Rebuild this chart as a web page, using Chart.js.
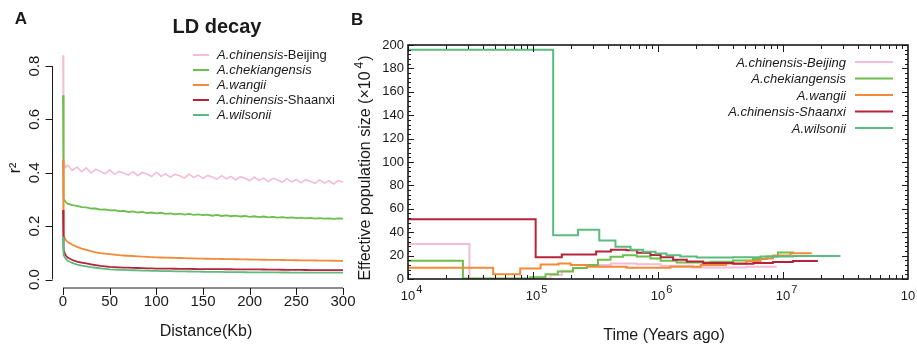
<!DOCTYPE html>
<html>
<head>
<meta charset="utf-8">
<script src="https://cdn.jsdelivr.net/npm/chart.js@4.4.0/dist/chart.umd.min.js"></script>
<style>
html, body { margin: 0; padding: 0; background: #fff; }
#wrap { position: relative; width: 917px; height: 344px; overflow: hidden; }
#ld-chart { position: absolute; left: 0; top: 0; }
#psmc-chart { position: absolute; left: 340px; top: 0; }
</style>
</head>
<body>
<div id="wrap">
  <canvas id="ld-chart" width="360" height="344"></canvas>
  <canvas id="psmc-chart" width="577" height="344"></canvas>
</div>
<script>
// species, same order in both panels
var speciesName = ['A.chinensis', 'A.chekiangensis', 'A.wangii', 'A.chinensis', 'A.wilsonii'];
var speciesSuffix = ['-Beijing', '', '', '-Shaanxi', ''];

// panel A: LD decay (r2 against distance in kb)
var distKb = [0, 0.3, 1, 2, 3,
  5, 10, 15, 20, 25, 30, 35, 40, 45, 50, 55, 60, 65, 70, 75, 80, 85, 90, 95, 100,
  105, 110, 115, 120, 125, 130, 135, 140, 145, 150, 155, 160, 165, 170, 175, 180, 185, 190, 195, 200,
  205, 210, 215, 220, 225, 230, 235, 240, 245, 250, 255, 260, 265, 270, 275, 280, 285, 290, 295, 300];
var ldBeijing = [0.84, 0.45, 0.435, 0.428, 0.42,
  0.428, 0.409, 0.421, 0.404, 0.418, 0.399, 0.413, 0.406, 0.396, 0.411, 0.394, 0.405, 0.399, 0.391, 0.404, 0.389, 0.401, 0.395, 0.386, 0.402,
  0.387, 0.396, 0.383, 0.394, 0.389, 0.380, 0.395, 0.382, 0.391, 0.378, 0.390, 0.384, 0.376, 0.389, 0.377, 0.386, 0.373, 0.385, 0.379, 0.370,
  0.384, 0.372, 0.380, 0.367, 0.379, 0.373, 0.365, 0.378, 0.366, 0.375, 0.362, 0.374, 0.368, 0.360, 0.373, 0.361, 0.370, 0.358, 0.371, 0.364];
var ldChekiang = [0.69, 0.32, 0.302, 0.295, 0.29,
  0.284, 0.279, 0.276, 0.271, 0.270, 0.266, 0.266, 0.262, 0.263, 0.259, 0.260, 0.256, 0.257, 0.253, 0.255, 0.251, 0.253, 0.249, 0.251, 0.248,
  0.250, 0.246, 0.248, 0.244, 0.247, 0.243, 0.246, 0.242, 0.244, 0.241, 0.243, 0.239, 0.242, 0.238, 0.240, 0.237, 0.239, 0.236, 0.238, 0.235,
  0.237, 0.234, 0.236, 0.233, 0.235, 0.232, 0.234, 0.231, 0.233, 0.230, 0.232, 0.229, 0.231, 0.228, 0.230, 0.228, 0.229, 0.227, 0.229, 0.228];
var ldWangii = [0.45, 0.19, 0.165, 0.155, 0.148,
  0.14, 0.13, 0.122, 0.116, 0.111, 0.106, 0.102, 0.099, 0.097, 0.095, 0.093, 0.091, 0.09, 0.089, 0.088, 0.087, 0.086, 0.085, 0.084, 0.083,
  0.0825, 0.082, 0.0815, 0.081, 0.0805, 0.08, 0.0795, 0.079, 0.0785, 0.078, 0.0778, 0.0775, 0.077, 0.0768, 0.0765, 0.076, 0.0758, 0.0755, 0.0752, 0.075,
  0.0748, 0.0745, 0.074, 0.0738, 0.0735, 0.0732, 0.073, 0.0728, 0.0725, 0.0722, 0.072, 0.0718, 0.0715, 0.0712, 0.071, 0.0708, 0.0705, 0.0703, 0.0701, 0.07];
var ldShaanxi = [0.26, 0.14, 0.11, 0.098, 0.09,
  0.082, 0.073, 0.067, 0.063, 0.06, 0.057, 0.054, 0.051, 0.049, 0.047, 0.0462, 0.0455, 0.0448, 0.0442, 0.0436, 0.043, 0.0425, 0.042, 0.0415, 0.041,
  0.0408, 0.0406, 0.0404, 0.0402, 0.04, 0.0398, 0.0396, 0.0394, 0.0392, 0.039, 0.0389, 0.0388, 0.0387, 0.0386, 0.0385, 0.0384, 0.0383, 0.0382, 0.0381, 0.038,
  0.0378, 0.0376, 0.0374, 0.0372, 0.037, 0.0368, 0.0366, 0.0364, 0.0362, 0.036, 0.0358, 0.0356, 0.0355, 0.0354, 0.0353, 0.0352, 0.0351, 0.035, 0.035, 0.035];
var ldWilsonii = [0.16, 0.11, 0.092, 0.083, 0.077,
  0.07, 0.062, 0.056, 0.052, 0.049, 0.046, 0.044, 0.042, 0.04, 0.038, 0.0372, 0.0365, 0.0358, 0.0352, 0.0346, 0.034, 0.0335, 0.033, 0.0325, 0.032,
  0.0317, 0.0314, 0.0311, 0.0308, 0.0305, 0.0302, 0.0299, 0.0296, 0.0293, 0.029, 0.0288, 0.0286, 0.0284, 0.0282, 0.028, 0.0278, 0.0276, 0.0274, 0.0272, 0.027,
  0.0269, 0.0268, 0.0267, 0.0266, 0.0265, 0.0264, 0.0263, 0.0262, 0.0261, 0.026, 0.026, 0.026, 0.026, 0.026, 0.026, 0.026, 0.026, 0.026, 0.026, 0.026];
var ldXTicks = [0, 50, 100, 150, 200, 250, 300];
var ldYTicks = [0, 0.2, 0.4, 0.6, 0.8];

// panel B: PSMC, step start times (last entry = end of curve) and Ne (x10^4)
var timeBeijing = [1e4, 3.1e4, 1.38e5, 1.7e5, 2.1e5, 2.7e5, 4.2e5, 6.8e5, 1.05e6, 1.9e6, 5.1e6, 8.9e6];
var neBeijing = [30, 0.3, 3.4, 7, 9.4, 11.9, 13.3, 12.7, 11.3, 9.9, 10.5];
var timeChekiang = [1e4, 2.75e4, 9.5e4, 1.26e5, 1.58e5, 2.09e5, 2.69e5, 3.31e5, 4.17e5, 5.25e5, 6.76e5, 8.71e5, 1.05e6, 1.41e6, 2.63e6, 3.98e6, 5.75e6, 7.41e6, 9.12e6, 1.23e7];
var neChekiang = [15.5, 0.5, 1.5, 4, 6.5, 9.4, 12, 16.5, 19, 20.4, 19.3, 17.6, 15.6, 14.2, 14.8, 15.9, 17, 19.3, 22.7];
var timeWangii = [1e4, 4.8e4, 7.9e4, 1.15e5, 1.6e5, 2e5, 2.7e5, 5.6e5, 1.26e6, 2.2e6, 3.5e6, 5.1e6, 6.6e6, 8.3e6, 1.15e7, 1.7e7];
var neWangii = [9.7, 4, 9, 12.5, 13.3, 11.9, 10.5, 9.6, 10.5, 11.9, 13.3, 15.3, 17.6, 20, 22];
var timeShaanxi = [1e4, 1.05e5, 1.7e5, 3.2e5, 4.2e5, 5.6e5, 6.8e5, 8.7e5, 1.05e6, 1.32e6, 1.7e6, 2.3e6, 4e6, 5.8e6, 8.3e6, 1.2e7, 1.9e7];
var neShaanxi = [51, 18.5, 21, 23.5, 25, 24.5, 22.5, 20.5, 18.5, 16.5, 15, 13.6, 13, 13.6, 14.5, 15.3];
var timeWilsonii = [1e4, 1.45e5, 2.29e5, 3.39e5, 4.57e5, 6.03e5, 7.59e5, 9.55e5, 1.17e6, 1.51e6, 2.04e6, 3.98e6, 6.61e6, 1.2e7, 2.88e7];
var neWilsonii = [196, 37.5, 42, 33, 27.5, 25, 23.3, 21.8, 20.4, 19.3, 18.4, 18.6, 19.3, 19.6];
var psmcXTicks = [1e4, 1e5, 1e6, 1e7, 1e8];
var psmcYTicks = [0, 20, 40, 60, 80, 100, 120, 140, 160, 180, 200];

// colours
var colors = ['#f5bcd6', '#6dbe4a', '#f28a3a', '#b5243a', '#5cbb7e'];
var FONT = "'Liberation Sans', Arial, Helvetica, sans-serif";
var ink = '#1a1a1a';

function ldPoints(vals) {
    return distKb.map(function (d, i) { return { x: d, y: vals[i] }; });
}

function psmcPoints(times, ne) {
    var pts = ne.map(function (v, i) { return { x: times[i], y: v }; });
    pts.push({ x: times[times.length - 1], y: ne[ne.length - 1] });
    return pts;
}

var ldDecor = {
    id: 'ldDecor',
    afterDraw: function (chart) {
        var ctx = chart.ctx, xs = chart.scales.x, ys = chart.scales.y, area = chart.chartArea;
        var axisX = area.left - 10.5;
        var axisY = area.bottom + 8.5;
        ctx.save();
        ctx.strokeStyle = ink;
        ctx.fillStyle = ink;
        ctx.lineWidth = 1;
        ctx.beginPath();
        ctx.moveTo(axisX, ys.getPixelForValue(ldYTicks[0]));
        ctx.lineTo(axisX, ys.getPixelForValue(ldYTicks[ldYTicks.length - 1]));
        ldYTicks.forEach(function (t) {
            var py = Math.round(ys.getPixelForValue(t)) + 0.5;
            ctx.moveTo(axisX, py);
            ctx.lineTo(axisX - 7, py);
        });
        ctx.moveTo(xs.getPixelForValue(ldXTicks[0]), axisY);
        ctx.lineTo(xs.getPixelForValue(ldXTicks[ldXTicks.length - 1]), axisY);
        ldXTicks.forEach(function (t) {
            var px = Math.round(xs.getPixelForValue(t)) + 0.5;
            ctx.moveTo(px, axisY);
            ctx.lineTo(px, axisY + 7);
        });
        ctx.stroke();

        // tick labels
        ctx.font = '15px ' + FONT;
        ctx.textAlign = 'center';
        ctx.textBaseline = 'middle';
        ldXTicks.forEach(function (t) {
            ctx.fillText(String(t), xs.getPixelForValue(t), axisY + 14);
        });
        ldYTicks.forEach(function (t) {
            ctx.save();
            ctx.translate(axisX - 18, ys.getPixelForValue(t));
            ctx.rotate(-Math.PI / 2);
            ctx.fillText(t.toFixed(1), 0, 0);
            ctx.restore();
        });

        // axis titles
        ctx.font = '16px ' + FONT;
        ctx.fillText('Distance(Kb)', 206, 332);
        ctx.save();
        ctx.translate(16, 168);
        ctx.rotate(-Math.PI / 2);
        ctx.fillText('r\u00b2', 0, 0);
        ctx.restore();

        ctx.font = 'bold 20px ' + FONT;
        ctx.fillText('LD decay', 217, 27);
        ctx.font = 'bold 17px ' + FONT;
        ctx.fillText('A', 21, 19);

        // legend
        ctx.textAlign = 'left';
        ctx.textBaseline = 'alphabetic';
        chart.data.datasets.forEach(function (ds, i) {
            var ly = 55 + 15 * i;
            ctx.strokeStyle = ds.borderColor;
            ctx.lineWidth = 2;
            ctx.beginPath();
            ctx.moveTo(193, ly);
            ctx.lineTo(209, ly);
            ctx.stroke();
            ctx.font = 'italic 13px ' + FONT;
            ctx.fillText(speciesName[i], 217, ly + 3.5);
            var w = ctx.measureText(speciesName[i]).width;
            ctx.font = '13px ' + FONT;
            ctx.fillText(speciesSuffix[i], 217 + w, ly + 3.5);
        });
        ctx.restore();
    }
};

var psmcDecor = {
    id: 'psmcDecor',
    afterDraw: function (chart) {
        var ctx = chart.ctx, xs = chart.scales.x, ys = chart.scales.y, a = chart.chartArea;
        ctx.save();
        ctx.strokeStyle = ink;
        ctx.fillStyle = ink;
        ctx.lineWidth = 1;
        ctx.beginPath();
        // y ticks, major every 20 and minor every 4, on both sides
        for (var v = 0; v <= 200; v += 4) {
            var py = Math.round(ys.getPixelForValue(v)) + 0.5;
            var len = v % 20 === 0 ? 6 : 3;
            ctx.moveTo(a.left, py); ctx.lineTo(a.left + len, py);
            ctx.moveTo(a.right, py); ctx.lineTo(a.right - len, py);
        }
        // log x ticks, bottom and top
        for (var d = 4; d < 8; d++) {
            for (var m = 1; m < 10; m++) {
                var px = Math.round(xs.getPixelForValue(m * Math.pow(10, d))) + 0.5;
                var l = m === 1 ? 7 : 4;
                ctx.moveTo(px, a.bottom); ctx.lineTo(px, a.bottom - l);
                ctx.moveTo(px, a.top); ctx.lineTo(px, a.top + l);
            }
        }
        ctx.stroke();
        ctx.lineWidth = 1.6;
        ctx.strokeRect(a.left, a.top, a.right - a.left, a.bottom - a.top);

        // y tick labels
        ctx.font = '13px ' + FONT;
        ctx.textAlign = 'right';
        ctx.textBaseline = 'middle';
        psmcYTicks.forEach(function (t) {
            ctx.fillText(String(t), a.left - 4, ys.getPixelForValue(t));
        });
        // x tick labels 10^n
        ctx.textBaseline = 'alphabetic';
        psmcXTicks.forEach(function (t) {
            var px = xs.getPixelForValue(t);
            ctx.font = '13px ' + FONT;
            ctx.textAlign = 'center';
            ctx.fillText('10', px, a.bottom + 20.5);
            var w = ctx.measureText('10').width;
            ctx.font = '11px ' + FONT;
            ctx.textAlign = 'left';
            ctx.fillText(String(Math.round(Math.log10(t))), px + w / 2 + 1, a.bottom + 13.5);
        });

        // axis titles
        ctx.font = '16px ' + FONT;
        ctx.textAlign = 'center';
        ctx.fillText('Time (Years ago)', 324, 340);

        ctx.save();
        ctx.translate(30, 168);
        ctx.rotate(-Math.PI / 2);
        var main = 'Effective population size (\u00d710', tail = ')';
        ctx.font = '16px ' + FONT;
        var w1 = ctx.measureText(main).width, w3 = ctx.measureText(tail).width;
        ctx.font = '12px ' + FONT;
        var w2 = ctx.measureText('4').width;
        var sx = -(w1 + w2 + w3 + 4) / 2;
        ctx.textAlign = 'left';
        ctx.font = '16px ' + FONT;
        ctx.fillText(main, sx, 0);
        ctx.font = '12px ' + FONT;
        ctx.fillText('4', sx + w1 + 3, -7);
        ctx.font = '16px ' + FONT;
        ctx.fillText(tail, sx + w1 + w2 + 4, 0);
        ctx.restore();

        ctx.font = 'bold 17px ' + FONT;
        ctx.textAlign = 'left';
        ctx.fillText('B', 11, 25);

        // legend, right aligned text with line sample
        chart.data.datasets.forEach(function (ds, i) {
            var ly = 62 + 16.5 * i;
            ctx.font = 'italic 13px ' + FONT;
            ctx.textAlign = 'right';
            ctx.fillStyle = ink;
            ctx.fillText(ds.label, 506, ly + 4.5);
            ctx.strokeStyle = ds.borderColor;
            ctx.lineWidth = 2;
            ctx.beginPath();
            ctx.moveTo(515, ly);
            ctx.lineTo(553, ly);
            ctx.stroke();
        });
        ctx.restore();
    }
};

var ldSeries = [ldBeijing, ldChekiang, ldWangii, ldShaanxi, ldWilsonii];
var ldChart = new Chart(document.getElementById('ld-chart').getContext('2d'), {
    type: 'line',
    data: {
        datasets: ldSeries.map(function (vals, i) {
            return {
                label: speciesName[i] + speciesSuffix[i],
                data: ldPoints(vals),
                borderColor: colors[i],
                borderWidth: i === 0 ? 1.6 : 1.8,
                pointRadius: 0,
                tension: 0,
                clip: false,
                order: 5 - i
            };
        })
    },
    options: {
        responsive: false,
        animation: false,
        layout: { padding: { left: 63, right: 17, top: 66, bottom: 64.5 } },
        plugins: { legend: { display: false }, tooltip: { enabled: false } },
        scales: {
            x: { type: 'linear', display: false, min: 0, max: 300 },
            y: { type: 'linear', display: false, min: 0, max: 0.8 }
        }
    },
    plugins: [ldDecor]
});

var psmcTimes = [timeBeijing, timeChekiang, timeWangii, timeShaanxi, timeWilsonii];
var psmcNe = [neBeijing, neChekiang, neWangii, neShaanxi, neWilsonii];
var psmcChart = new Chart(document.getElementById('psmc-chart').getContext('2d'), {
    type: 'line',
    data: {
        datasets: psmcNe.map(function (ne, i) {
            return {
                label: speciesName[i] + speciesSuffix[i],
                data: psmcPoints(psmcTimes[i], ne),
                borderColor: colors[i],
                borderWidth: 2,
                pointRadius: 0,
                stepped: true,
                order: 5 - i
            };
        })
    },
    options: {
        responsive: false,
        animation: false,
        layout: { padding: { left: 68, right: 9, top: 45, bottom: 65 } },
        plugins: { legend: { display: false }, tooltip: { enabled: false } },
        scales: {
            x: { type: 'logarithmic', display: false, min: 1e4, max: 1e8 },
            y: { type: 'linear', display: false, min: 0, max: 200 }
        }
    },
    plugins: [psmcDecor]
});
</script>
</body>
</html>
